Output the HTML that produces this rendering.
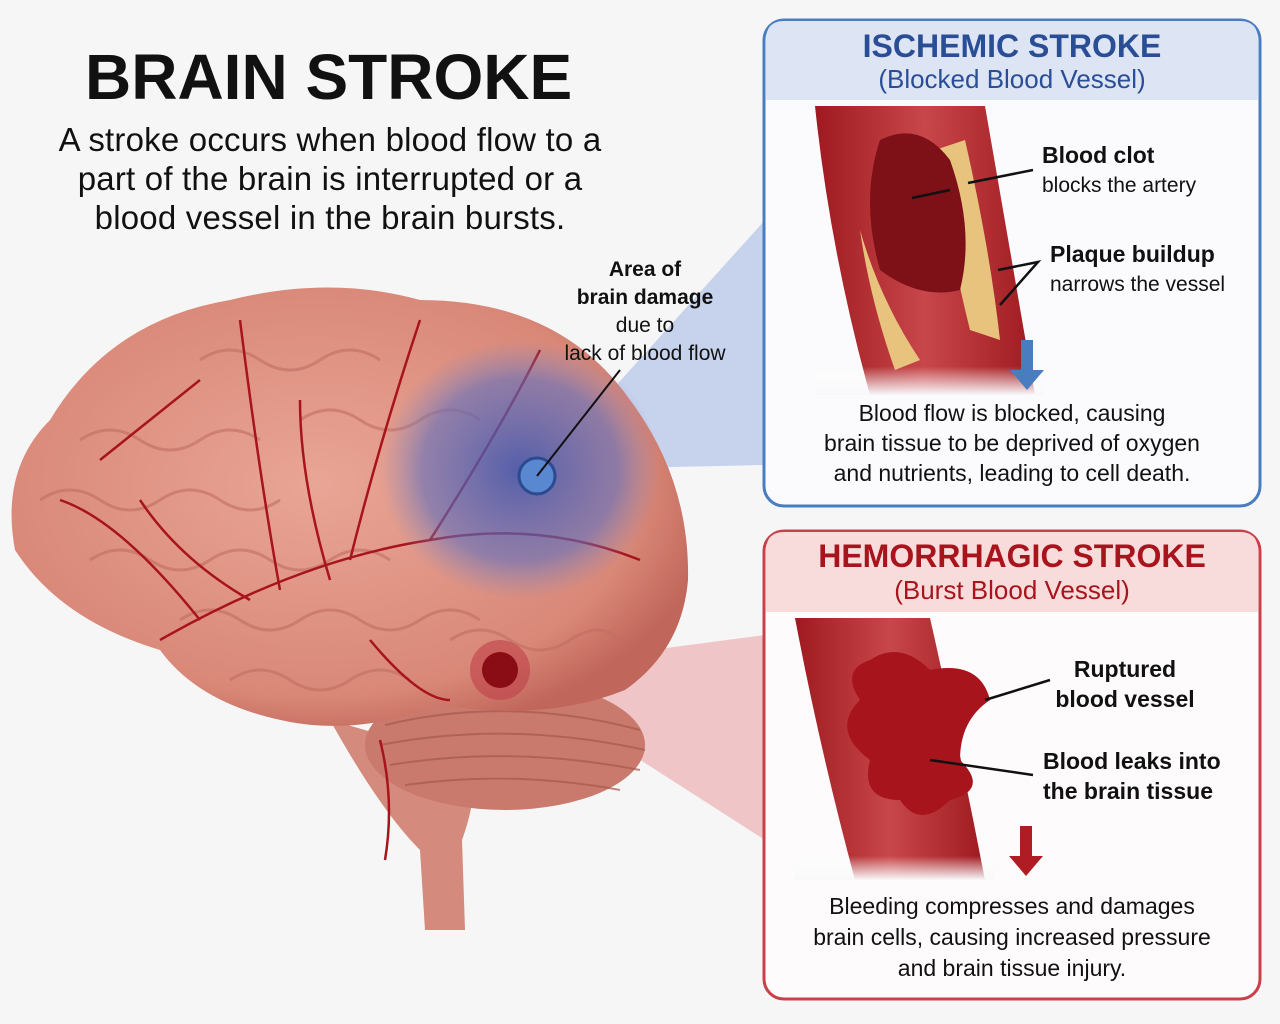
<!DOCTYPE html>
<html><head><meta charset="utf-8"><style>
html,body{margin:0;padding:0;background:#f6f6f7;}
body{width:1280px;height:1024px;position:relative;overflow:hidden;font-family:"Liberation Sans",sans-serif;}
.t{position:absolute;white-space:nowrap;}
</style></head><body>
<svg width="1280" height="1024" style="position:absolute;left:0;top:0">
<defs>
<radialGradient id="br" cx="45%" cy="45%" r="60%"><stop offset="0" stop-color="#e9a595"/><stop offset="0.8" stop-color="#d98878"/><stop offset="1" stop-color="#c0665a"/></radialGradient>
<radialGradient id="blu" cx="50%" cy="50%" r="50%"><stop offset="0" stop-color="#3c55b0" stop-opacity="0.85"/><stop offset="0.7" stop-color="#5d6fc0" stop-opacity="0.6"/><stop offset="1" stop-color="#7a88c8" stop-opacity="0"/></radialGradient>
<linearGradient id="vs" x1="0" x2="1"><stop offset="0" stop-color="#9e1a20"/><stop offset="0.5" stop-color="#c8474a"/><stop offset="1" stop-color="#9e1a20"/></linearGradient>
<linearGradient id="fade" x1="0" y1="0" x2="0" y2="1"><stop offset="0.7" stop-color="#fff" stop-opacity="0"/><stop offset="1" stop-color="#f8f8fa" stop-opacity="1"/></linearGradient>
</defs>
<polygon points="540,470 765,220 765,465" fill="#8ea8e0" opacity="0.45"/>
<polygon points="500,670 765,635 765,840" fill="#e88a8e" opacity="0.45"/>
<path d="M330,720 Q380,810 420,850 L425,930 L465,930 L462,840 Q480,790 470,760 Z" fill="#d48a7c"/>
<ellipse cx="505" cy="745" rx="140" ry="65" fill="#c97a6c"/>
<g stroke="#a55a4e" stroke-width="2" fill="none" opacity="0.7">
<path d="M385,725 Q510,695 640,730"/><path d="M380,745 Q510,720 645,750"/><path d="M390,765 Q510,745 640,770"/><path d="M405,785 Q510,770 620,790"/></g>
<path d="M50,420 Q110,320 230,300 Q330,275 420,300 Q560,300 630,400 Q690,480 688,580 Q682,650 625,690 Q545,722 440,705 Q360,735 290,722 Q200,705 160,650 Q60,620 15,550 Q0,470 50,420 Z" fill="url(#br)"/>
<g stroke="#c06e60" stroke-width="3" fill="none" opacity="0.6">
<path d="M80,440 q30,-20 60,0 t60,0 t60,0"/><path d="M40,500 q30,-20 60,0 t60,0 t60,0 t60,0"/><path d="M90,560 q30,-20 60,0 t60,0 t60,0 t60,0 t60,0"/><path d="M200,360 q30,-20 60,0 t60,0 t60,0"/><path d="M180,620 q30,-20 60,0 t60,0 t60,0 t60,0 t60,0"/><path d="M300,420 q30,-20 60,0 t60,0 t60,0"/><path d="M450,640 q30,-20 60,0 t60,0 t50,0"/><path d="M230,680 q30,-20 60,0 t60,0 t60,0"/></g>
<g stroke="#a8141c" stroke-width="2.5" fill="none">
<path d="M160,640 Q300,560 430,540 Q540,520 640,560"/><path d="M280,590 Q260,480 240,320"/><path d="M350,560 Q380,440 420,320"/><path d="M200,620 Q120,520 60,500"/><path d="M430,540 Q500,430 540,350"/><path d="M330,580 Q300,480 300,400"/><path d="M250,600 Q180,560 140,500"/><path d="M370,640 Q420,700 450,700"/><path d="M380,740 Q395,800 385,860"/><path d="M100,460 Q150,420 200,380"/></g>
<ellipse cx="520" cy="470" rx="140" ry="130" fill="url(#blu)"/>
<circle cx="537" cy="476" r="18" fill="#5a88d0" stroke="#2c4a90" stroke-width="3"/>
<circle cx="500" cy="670" r="30" fill="#c0404a" opacity="0.6"/>
<circle cx="500" cy="670" r="18" fill="#8a0c14"/>
<line x1="537" y1="476" x2="620" y2="370" stroke="#111" stroke-width="2"/>
<rect x="764" y="20" width="496" height="486" rx="20" fill="#fbfbfd" stroke="#4a7cc0" stroke-width="3"/>
<path d="M784,21 H1240 Q1258,21 1258,40 V100 H766 V40 Q766,21 784,21Z" fill="#dde5f4"/>
<rect x="764" y="531" width="496" height="468" rx="20" fill="#fdfbfb" stroke="#c8404a" stroke-width="3"/>
<path d="M784,532 H1240 Q1258,532 1258,551 V612 H766 V551 Q766,532 784,532Z" fill="#f8dcdc"/>
<path d="M815,106 L985,106 Q1010,250 1035,395 L870,395 Q830,250 815,106Z" fill="url(#vs)"/>
<path d="M935,150 L965,140 Q990,250 1000,340 L970,330 Q950,250 935,150Z" fill="#e8c37e"/>
<path d="M860,230 Q880,300 920,360 L895,370 Q870,300 860,230Z" fill="#e8c37e"/>
<path d="M880,140 Q920,120 950,160 Q975,230 960,290 Q920,300 880,270 Q860,200 880,140Z" fill="#7e1018"/>
<rect x="815" y="300" width="230" height="95" fill="url(#fade)"/>
<g stroke="#111" stroke-width="2.5"><line x1="968" y1="183" x2="1033" y2="170"/><line x1="912" y1="198" x2="950" y2="190"/><path d="M998,270 L1038,262 L1000,305" fill="none"/></g>
<rect x="1021" y="340" width="12" height="32" fill="#4a7cc0"/><polygon points="1010,370 1044,370 1027,390" fill="#4a7cc0"/>
<path d="M795,618 L930,618 Q960,750 985,880 L855,880 Q820,750 795,618Z" fill="url(#vs)"/>
<path d="M870,660 Q900,640 930,670 Q980,660 990,700 Q960,720 960,760 Q990,790 950,800 Q920,830 900,800 Q860,800 870,760 Q830,730 860,700 Q840,670 870,660Z" fill="#a8141c"/>
<rect x="795" y="800" width="200" height="80" fill="url(#fade)"/>
<g stroke="#111" stroke-width="2.5"><line x1="985" y1="700" x2="1050" y2="680"/><line x1="930" y1="760" x2="1033" y2="775"/></g>
<rect x="1020" y="826" width="12" height="32" fill="#b01c24"/><polygon points="1009,856 1043,856 1026,876" fill="#b01c24"/>
</svg>
<div class="t" style="left:85px;top:40px;font-size:64px;font-weight:bold;color:#111">BRAIN STROKE</div>
<div class="t" style="left:30px;top:120px;width:600px;text-align:center;font-size:33px;line-height:39px;color:#111;letter-spacing:0.2px">A stroke occurs when blood flow to a<br>part of the brain is interrupted or a<br>blood vessel in the brain bursts.</div>
<div class="t" style="left:545px;top:256px;width:200px;text-align:center;font-size:21px;line-height:28px;color:#111"><b>Area of<br>brain damage</b><br>due to<br>lack of blood flow</div>
<div class="t" style="left:764px;top:28px;width:496px;text-align:center;font-size:32px;font-weight:bold;color:#2a4e96">ISCHEMIC STROKE</div>
<div class="t" style="left:764px;top:64px;width:496px;text-align:center;font-size:26px;color:#2a4e96">(Blocked Blood Vessel)</div>
<div class="t" style="left:1042px;top:141px;font-size:23px;line-height:29px;color:#111"><b>Blood clot</b><br><span style="font-size:21px">blocks the artery</span></div>
<div class="t" style="left:1050px;top:240px;font-size:23px;line-height:29px;color:#111"><b>Plaque buildup</b><br><span style="font-size:21px">narrows the vessel</span></div>
<div class="t" style="left:764px;top:398px;width:496px;text-align:center;font-size:23px;line-height:30px;color:#111">Blood flow is blocked, causing<br>brain tissue to be deprived of oxygen<br>and nutrients, leading to cell death.</div>
<div class="t" style="left:764px;top:538px;width:496px;text-align:center;font-size:32px;font-weight:bold;color:#a8141c">HEMORRHAGIC STROKE</div>
<div class="t" style="left:764px;top:575px;width:496px;text-align:center;font-size:26px;color:#a8141c">(Burst Blood Vessel)</div>
<div class="t" style="left:1050px;top:654px;width:150px;text-align:center;font-size:23px;line-height:30px;font-weight:bold;color:#111">Ruptured<br>blood vessel</div>
<div class="t" style="left:1043px;top:746px;font-size:23px;line-height:30px;font-weight:bold;color:#111">Blood leaks into<br>the brain tissue</div>
<div class="t" style="left:764px;top:891px;width:496px;text-align:center;font-size:23px;line-height:31px;color:#111">Bleeding compresses and damages<br>brain cells, causing increased pressure<br>and brain tissue injury.</div>
</body></html>
